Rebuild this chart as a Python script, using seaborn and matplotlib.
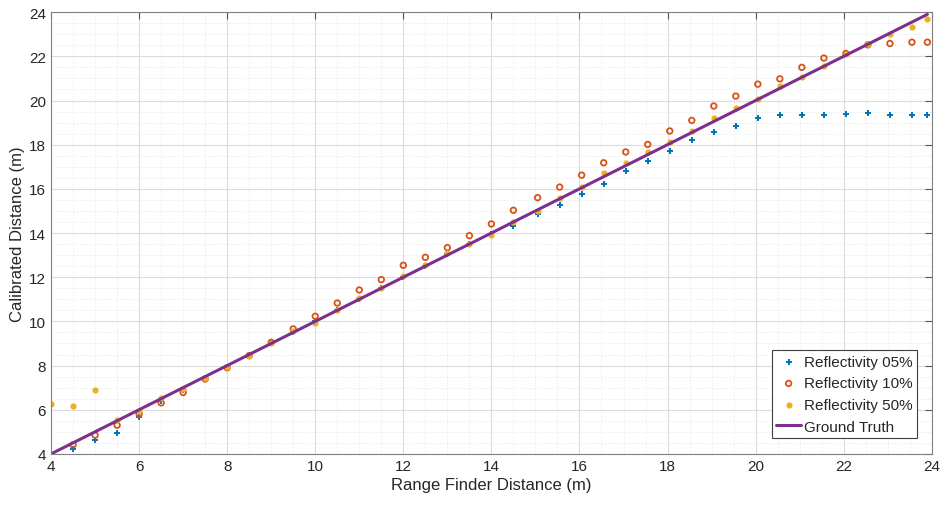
import numpy as np
import pandas as pd
import matplotlib
matplotlib.use("Agg")
import matplotlib.pyplot as plt
from matplotlib.ticker import MultipleLocator
import seaborn as sns

# ── data ──────────────────────────────────────────────────────────────────────
range_finder = [4.0, 4.5, 5.0, 5.5, 6.0, 6.5, 7.0, 7.5, 8.0, 8.5, 9.0, 9.5,
                10.0, 10.5, 11.0, 11.5, 12.0, 12.5, 13.0, 13.5, 14.0, 14.5,
                15.05, 15.55, 16.05, 16.55, 17.05, 17.55, 18.05, 18.55, 19.05,
                19.55, 20.05, 20.55, 21.05, 21.55, 22.05, 22.55, 23.05, 23.55, 23.9]

refl_05 = [np.nan, 4.24, 4.63, 4.95, 5.66, 6.40, 6.90, 7.45, 7.95, 8.45, 9.05, 9.50,
           10.00, 10.50, 11.00, 11.50, 12.00, 12.50, 13.05, 13.50, 13.95, 14.33,
           14.86, 15.27, 15.77, 16.23, 16.82, 17.26, 17.72, 18.22, 18.56,
           18.83, 19.23, 19.34, 19.34, 19.35, 19.37, 19.43, 19.35, 19.35, 19.35]

refl_10 = [np.nan, 4.41, 4.85, 5.30, 5.81, 6.31, 6.78, 7.39, 7.90, 8.45, 9.05, 9.66,
           10.23, 10.83, 11.42, 11.89, 12.54, 12.90, 13.34, 13.88, 14.41, 15.03,
           15.60, 16.08, 16.62, 17.18, 17.67, 18.01, 18.62, 19.10, 19.75,
           20.20, 20.74, 20.98, 21.50, 21.92, 22.13, 22.52, 22.58, 22.64, 22.64]

refl_50 = [6.26, 6.16, 6.91, 5.55, 5.96, 6.53, 6.95, 7.45, 7.92, 8.45, 9.00, 9.55,
           9.93, 10.53, 11.04, 11.50, 12.07, 12.57, 13.08, 13.50, 13.92, 14.48,
           15.01, 15.60, 16.07, 16.72, 17.17, 17.65, 18.10, 18.63, 19.20,
           19.64, 20.06, 20.67, 21.05, 21.57, 22.10, 22.57, 23.00, 23.33, 23.67]

truth_x = [4.0, 23.9]
truth_y = [4.0, 23.9]

df = pd.DataFrame({"x": range_finder, "r05": refl_05, "r10": refl_10, "r50": refl_50})

# ── style ─────────────────────────────────────────────────────────────────────
sns.set_style("white")
plt.rcParams["font.family"] = ["Liberation Sans", "DejaVu Sans"]

fig = plt.figure(figsize=(9.45, 5.06), dpi=100)
ax = fig.add_axes([0.054, 0.101, 0.932, 0.873])

sns.scatterplot(data=df, x="x", y="r05", marker="+", color="#0072BD",
                s=22, linewidth=1.4, label="Reflectivity 05%", ax=ax)
sns.scatterplot(data=df, x="x", y="r10", marker="o", color="#D95319",
                s=16, linewidth=1.3, label="Reflectivity 10%", ax=ax)
ax.collections[-1].set_facecolor("none")
ax.collections[-1].set_edgecolor("#D95319")
sns.scatterplot(data=df, x="x", y="r50", marker="o", color="#EDB120",
                s=20, linewidth=0, label="Reflectivity 50%", ax=ax)
sns.lineplot(x=truth_x, y=truth_y, color="#7E2F8E", linewidth=2.2,
             label="Ground Truth", ax=ax)

ax.set_xlim(4, 24)
ax.set_ylim(4, 24)
ax.xaxis.set_major_locator(MultipleLocator(2))
ax.yaxis.set_major_locator(MultipleLocator(2))
ax.xaxis.set_minor_locator(MultipleLocator(0.5))
ax.yaxis.set_minor_locator(MultipleLocator(0.5))
ax.grid(which="major", color="#dcdcdc", linewidth=0.8)
ax.grid(which="minor", color="#e4e4e4", linewidth=0.6, linestyle=":")
ax.set_axisbelow(True)

ax.tick_params(which="major", direction="in", length=5, top=True, right=True,
               labelsize=11, color="#555555", labelcolor="#262626")
ax.tick_params(which="minor", length=0)
for sp in ax.spines.values():
    sp.set_color("#808080")
    sp.set_linewidth(0.8)

ax.set_xlabel("Range Finder Distance (m)", fontsize=12, color="#262626", labelpad=3)
ax.set_ylabel("Calibrated Distance (m)", fontsize=12, color="#262626", labelpad=3)

leg = ax.legend(loc="lower right", fontsize=11, frameon=True, fancybox=False,
                edgecolor="#404040", framealpha=1, borderpad=0.3,
                handlelength=1.6, handletextpad=0.2, labelspacing=0.5,
                bbox_to_anchor=(0.992, 0.018))
leg.get_frame().set_linewidth(0.8)

plt.savefig("out.png", dpi=100)
